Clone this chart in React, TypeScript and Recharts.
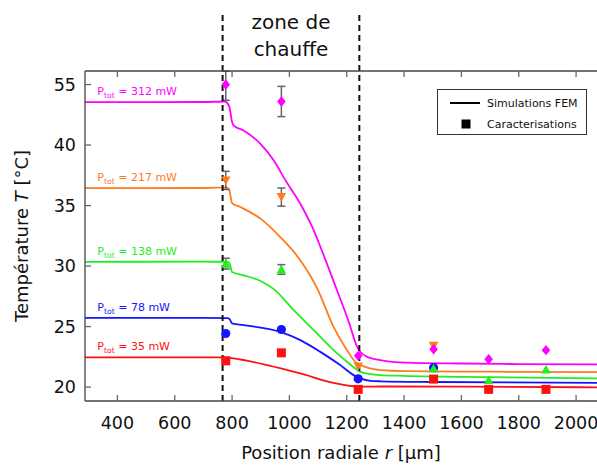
import React from 'react';
import { ComposedChart, Line, Scatter, XAxis, YAxis, ErrorBar, ReferenceLine, ReferenceDot } from 'recharts';

const FONT = "'DejaVu Sans', sans-serif";
const W = 597;
const H = 466;

// Axes
const X_DOMAIN: [number, number] = [287, 2073];
const X_TICKS = [400, 600, 800, 1000, 1200, 1400, 1600, 1800, 2000];
// broken axis in the original figure: the top tick (drawn at 45) is labelled 55
const Y_DOMAIN: [number, number] = [18.85, 46.12];
const Y_TICKS = [20, 25, 30, 35, 40, 45];
const Y_TICK_LABELS = ['20', '25', '30', '35', '40', '55'];

// Heating zone (µm)
const HEAT_ZONE = [767, 1244];
const ZONE_TOP = 50.9;
const ZONE_TEXT_Y = 49.6;

// Series
const POWERS = [312, 217, 138, 78, 35];
const COLORS = ['#ff00ff', '#ff7a1c', '#22ee22', '#1414ff', '#ff1010'];
const SHAPES = ['diamond', 'down', 'up', 'circle', 'square'];
const PLATEAU = [43.56, 36.44, 30.35, 25.72, 22.45];
const LABEL_R = 330;

// Simulations FEM
const SIM_R_312 = [287, 700, 775, 790, 800, 806, 840, 899, 945, 986, 1038, 1085, 1108, 1166, 1207, 1236, 1248, 1271, 1317, 1410, 1600, 1800, 2073];
const SIM_T_312 = [43.55, 43.56, 43.6, 43.2, 41.9, 41.6, 41.2, 40.1, 38.75, 37.1, 35.15, 32.95, 31.6, 28.0, 25.4, 23.35, 22.9, 22.5, 22.23, 22.02, 21.95, 21.9, 21.87];
const SIM_R_217 = [287, 700, 780, 790, 800, 829, 899, 968, 1038, 1096, 1154, 1201, 1230, 1248, 1282, 1317, 1400, 1700, 2073];
const SIM_T_217 = [36.44, 36.45, 36.5, 36.3, 35.2, 34.88, 33.92, 32.4, 30.48, 28.2, 24.98, 23.05, 22.09, 21.82, 21.54, 21.4, 21.32, 21.27, 21.24];
const SIM_R_138 = [287, 700, 785, 792, 800, 840, 899, 948, 1015, 1085, 1154, 1201, 1230, 1248, 1317, 1400, 1700, 2073];
const SIM_T_138 = [30.35, 30.36, 30.35, 30.2, 29.51, 29.24, 28.77, 28.05, 26.35, 24.7, 23.05, 22.09, 21.54, 21.26, 20.99, 20.93, 20.82, 20.72];
const SIM_R_78 = [287, 700, 785, 792, 800, 840, 968, 1038, 1108, 1177, 1224, 1248, 1282, 1317, 1500, 2073];
const SIM_T_78 = [25.72, 25.72, 25.7, 25.6, 25.26, 25.12, 24.56, 23.88, 22.91, 21.82, 20.99, 20.72, 20.52, 20.48, 20.42, 20.35];
const SIM_R_35 = [287, 780, 806, 922, 1038, 1154, 1224, 1260, 1320, 1600, 2073];
const SIM_T_35 = [22.45, 22.45, 22.37, 21.82, 21.13, 20.35, 20.07, 20.03, 20.05, 20.03, 19.98];

// Caracterisations (error as [minus, plus])
const MEAS_R = [778, 972, 1240, 1503, 1695, 1895];
const MEAS_T_312 = [45.0, 43.6, 22.58, 23.13, 22.31, 23.05];
const MEAS_E_312 = [[1.3, 1.1], [1.25, 1.25], null, null, null, null];
const MEAS_T_217 = [37.08, 35.7, 21.7, 23.41, null, null];
const MEAS_E_217 = [[0.75, 0.75], [0.75, 0.75], null, null, null, null];
const MEAS_T_138 = [30.2, 29.72, null, 21.54, 20.58, 21.46];
const MEAS_E_138 = [[0.45, 0.45], [0.4, 0.4], null, null, null, null];
const MEAS_T_78 = [24.43, 24.76, 20.68, 21.6, null, null];
const MEAS_T_35 = [22.17, 22.83, 19.81, 20.66, 19.81, 19.81];

const SIM_R = [SIM_R_312, SIM_R_217, SIM_R_138, SIM_R_78, SIM_R_35];
const SIM_T = [SIM_T_312, SIM_T_217, SIM_T_138, SIM_T_78, SIM_T_35];
const MEAS_T = [MEAS_T_312, MEAS_T_217, MEAS_T_138, MEAS_T_78, MEAS_T_35];
const MEAS_E: any[][] = [MEAS_E_312, MEAS_E_217, MEAS_E_138, [], []];

const simData = (i: number) => SIM_R[i].map((r, k) => ({ x: r, y: SIM_T[i][k] }));
const measData = (i: number) =>
  MEAS_R.map((r, k) => ({ x: r, y: MEAS_T[i][k], err: MEAS_E[i][k] ?? undefined })).filter((p) => p.y != null);

const marker = (kind: string, color: string) => (p: any) => {
  const { cx, cy } = p;
  if (cx == null || cy == null || isNaN(cx) || isNaN(cy)) return <g />;
  switch (kind) {
    case 'diamond':
      return <polygon points={`${cx},${cy - 5.2} ${cx + 4.3},${cy} ${cx},${cy + 5.2} ${cx - 4.3},${cy}`} fill={color} />;
    case 'down':
      return <polygon points={`${cx - 4.8},${cy - 4} ${cx + 4.8},${cy - 4} ${cx},${cy + 4.6}`} fill={color} />;
    case 'up':
      return <polygon points={`${cx - 4.8},${cy + 4} ${cx + 4.8},${cy + 4} ${cx},${cy - 4.6}`} fill={color} />;
    case 'circle':
      return <circle cx={cx} cy={cy} r={4.6} fill={color} />;
    default:
      return <rect x={cx - 4.5} y={cy - 4.5} width={9} height={9} fill={color} />;
  }
};

const powerLabel = (color: string, power: number) => (p: any) => (
  <text x={p.cx} y={p.cy} fill={color} fontSize={11} fontFamily={FONT}>
    P<tspan fontSize={7.7} dy={3}>tot</tspan>
    <tspan dy={-3}>{` = ${power} mW`}</tspan>
  </text>
);

const zoneLabel = (p: any) => (
  <text x={p.cx} y={p.cy} textAnchor="middle" fontSize={20} fontFamily={FONT} fill="#111">
    <tspan x={p.cx}>zone de</tspan>
    <tspan x={p.cx} dy={27}>chauffe</tspan>
  </text>
);

const XTitle = (props: any) => {
  const vb = props.viewBox;
  return (
    <text x={vb.x + vb.width / 2} y={vb.y + 58} textAnchor="middle" fontSize={18} fontFamily={FONT} fill="#111">
      Position radiale <tspan fontStyle="italic">r</tspan> [μm]
    </text>
  );
};

const YTitle = (props: any) => {
  const vb = props.viewBox;
  const cx = 28;
  const cy = vb.y + vb.height / 2;
  return (
    <text x={cx} y={cy} transform={`rotate(-90 ${cx} ${cy})`} textAnchor="middle" fontSize={18} fontFamily={FONT} fill="#111">
      Température <tspan fontStyle="italic">T</tspan> [°C]
    </text>
  );
};

const ORDER = [4, 3, 2, 1, 0];

export default function App() {
  return (
    <div style={{ position: 'absolute', left: 0, top: 0, width: W, height: H, overflow: 'hidden', background: '#fff' }}>
      <ComposedChart width={W} height={H} margin={{ top: 70, right: 0, bottom: 0, left: 0 }}>
        <XAxis
          type="number"
          dataKey="x"
          domain={X_DOMAIN}
          allowDataOverflow
          ticks={X_TICKS}
          height={65}
          tickSize={-6}
          tickMargin={22}
          stroke="#444"
          strokeWidth={1.3}
          tickLine={{ stroke: '#666', strokeWidth: 1.3 }}
          tick={{ fontSize: 17.5, fill: '#111', fontFamily: FONT }}
          label={<XTitle />}
        />
        <XAxis
          xAxisId="top"
          orientation="top"
          type="number"
          dataKey="x"
          domain={X_DOMAIN}
          allowDataOverflow
          ticks={X_TICKS}
          height={1}
          tickSize={-6}
          stroke="#444"
          strokeWidth={1.3}
          tickLine={{ stroke: '#666', strokeWidth: 1.3 }}
          tick={() => <g />}
        />
        <YAxis
          type="number"
          domain={Y_DOMAIN}
          allowDataOverflow
          ticks={Y_TICKS}
          width={85}
          tickSize={-6}
          tickMargin={15}
          stroke="#444"
          strokeWidth={1.3}
          tickLine={{ stroke: '#666', strokeWidth: 1.3 }}
          tickFormatter={(v: number) => Y_TICK_LABELS[Y_TICKS.indexOf(v)] ?? String(v)}
          tick={{ fontSize: 17.5, fill: '#111', fontFamily: FONT }}
          label={<YTitle />}
        />
        {ORDER.map((i) => (
          <Line
            key={`sim${i}`}
            data={simData(i)}
            dataKey="y"
            type="monotone"
            stroke={COLORS[i]}
            strokeWidth={1.8}
            dot={false}
            activeDot={false}
            isAnimationActive={false}
          />
        ))}
        {ORDER.map((i) => (
          <Scatter
            key={`meas${i}`}
            data={measData(i)}
            dataKey="y"
            shape={marker(SHAPES[i], COLORS[i])}
            isAnimationActive={false}
          >
            {i <= 2 && <ErrorBar dataKey="err" direction="y" width={4} stroke="#666" strokeWidth={1.5} />}
          </Scatter>
        ))}
        {HEAT_ZONE.map((r) => (
          <ReferenceLine
            key={`zone${r}`}
            segment={[{ x: r, y: Y_DOMAIN[0] }, { x: r, y: ZONE_TOP }]}
            ifOverflow="visible"
            stroke="#111"
            strokeWidth={2}
            strokeDasharray="6 4"
          />
        ))}
        <ReferenceDot
          x={(HEAT_ZONE[0] + HEAT_ZONE[1]) / 2}
          y={ZONE_TEXT_Y}
          r={0}
          ifOverflow="visible"
          shape={zoneLabel}
        />
        {ORDER.map((i) => (
          <ReferenceDot
            key={`lab${i}`}
            x={LABEL_R}
            y={PLATEAU[i] + 0.6}
            r={0}
            ifOverflow="visible"
            shape={powerLabel(COLORS[i], POWERS[i])}
          />
        ))}
      </ComposedChart>
      <div
        style={{
          position: 'absolute',
          left: 437,
          top: 89,
          width: 148,
          height: 44,
          border: '1px solid #333',
          background: '#fff',
          fontFamily: FONT,
          fontSize: 11,
          color: '#111',
        }}
      >
        <svg width={148} height={44} style={{ position: 'absolute', left: 0, top: 0 }}>
          <line x1={12} x2={42} y1={13} y2={13} stroke="#000" strokeWidth={2} />
          <text x={49} y={17} fontSize={11} fontFamily={FONT} fill="#111">Simulations FEM</text>
          <rect x={23.5} y={29.5} width={9} height={9} fill="#000" />
          <text x={49} y={38} fontSize={11} fontFamily={FONT} fill="#111">Caracterisations</text>
        </svg>
      </div>
    </div>
  );
}
